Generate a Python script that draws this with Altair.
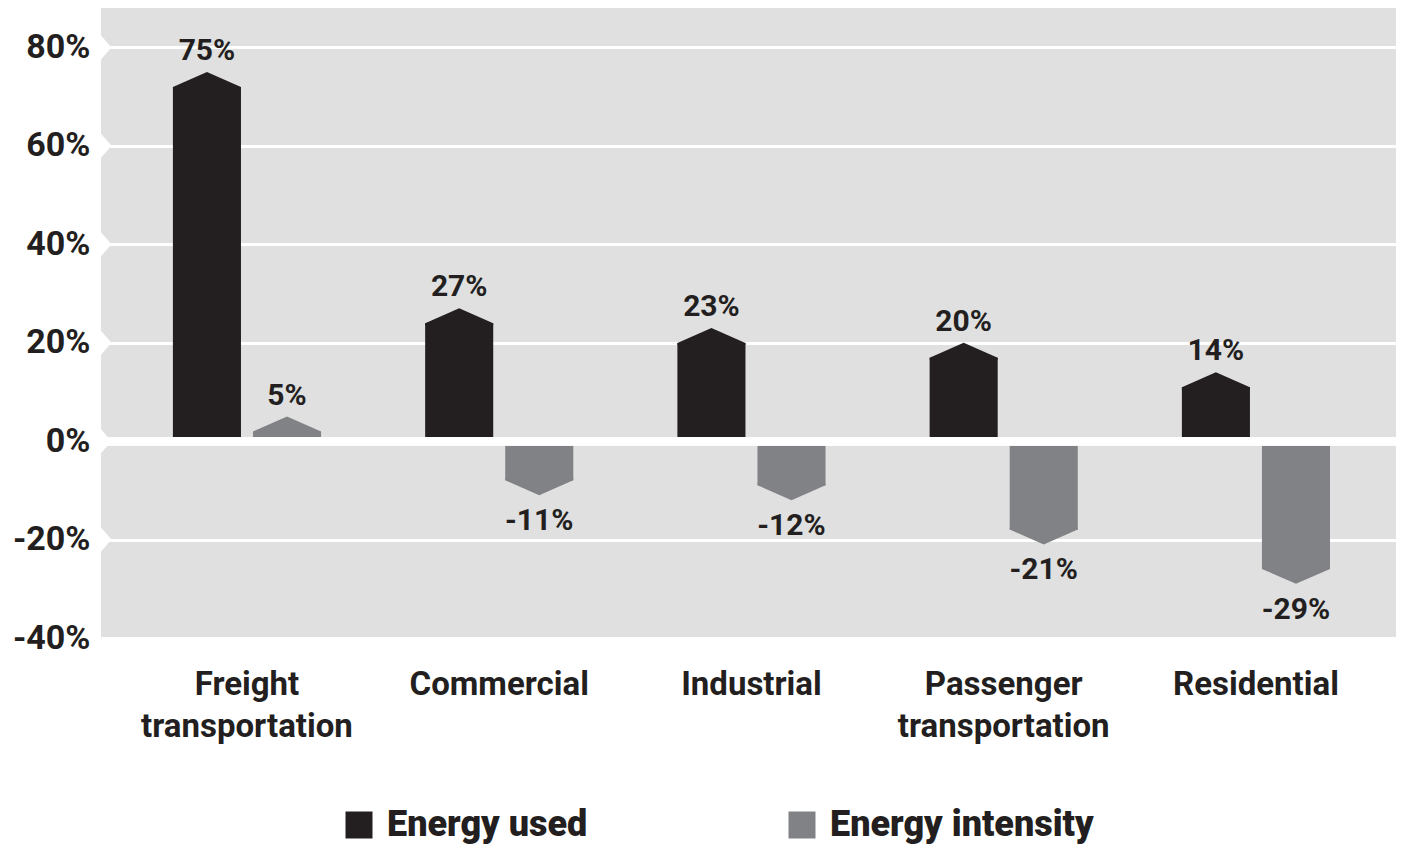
import altair as alt
import pandas as pd

categories = ["Freight transportation", "Commercial", "Industrial",
              "Passenger transportation", "Residential"]
energy_used = [75, 27, 23, 20, 14]
energy_intensity = [5, -11, -12, -21, -29]
series = ["Energy used", "Energy intensity"]
y_ticks = [-40, -20, 0, 20, 40, 60, 80]
notch_ticks = [-20, 0, 20, 40, 60, 80]

rows = []
for c, u, i in zip(categories, energy_used, energy_intensity):
    rows.append({"category": c, "series": series[0], "value": u})
    rows.append({"category": c, "series": series[1], "value": i})
df = pd.DataFrame(rows)
notch_df = pd.DataFrame({"tick": notch_ticks})

INK = "#231f20"
GRAY = "#808285"
BG = "#e0e0e0"
FONT = "Roboto"

x = alt.X("category:N", sort=categories,
          scale=alt.Scale(paddingInner=0.4, paddingOuter=0.267, align=0.522),
          axis=alt.Axis(title=None, labelExpr="split(datum.label, ' ')",
                        labelFontSize=33, labelFont=FONT, labelFontWeight="bold",
                        labelColor=INK, labelAngle=0, labelPadding=30, labelLimit=0,
                        labelLineHeight=42, ticks=False, domain=False, grid=False))
xo = alt.XOffset("series:N", sort=series,
                 scale=alt.Scale(paddingInner=0.15, paddingOuter=0.02))
y = alt.Y("value:Q", stack=None,
          scale=alt.Scale(domain=[-40, 88], nice=False, zero=False),
          axis=alt.Axis(values=y_ticks, labelExpr="datum.value + '%'", title=None,
                        grid=True, gridColor="white", gridWidth=3, ticks=False,
                        domain=False, labelFontSize=34, labelFont=FONT,
                        labelFontWeight="bold", labelColor=INK, labelPadding=11))
color = alt.Color("series:N", sort=series,
                  scale=alt.Scale(domain=series, range=[INK, GRAY]),
                  legend=alt.Legend(title=None, orient="none", legendX=240, legendY=799,
                                    direction="horizontal", symbolType="square",
                                    symbolSize=729, symbolStrokeWidth=0, labelLimit=0,
                                    labelFontSize=36, labelFont=FONT, labelFontWeight=900,
                                    labelColor=INK, columnPadding=196, labelOffset=10))

base = alt.Chart(df).encode(x=x, xOffset=xo, y=y, color=color)

pos = base.transform_filter("datum.value > 0")
neg = base.transform_filter("datum.value < 0")

bars_pos = pos.mark_bar(yOffset=15, opacity=1)
bars_neg = neg.mark_bar(yOffset=-15, opacity=1)

tip_pos = pos.mark_point(shape="M-1,0.5L-1,0.44L0,0L1,0.44L1,0.5Z", size=68 * 68,
                         filled=True, opacity=1, strokeWidth=0)
tip_neg = neg.mark_point(shape="M-1,-0.5L-1,-0.44L0,0L1,-0.44L1,-0.5Z", size=68 * 68,
                         filled=True, opacity=1, strokeWidth=0)

lab_pos = pos.transform_calculate(lbl="datum.value + '%'").mark_text(
    baseline="bottom", dy=-6, fontSize=30, font=FONT, fontWeight="bold"
).encode(text="lbl:N", color=alt.value(INK))
lab_neg = neg.transform_calculate(lbl="datum.value + '%'").mark_text(
    baseline="top", dy=11, fontSize=30, font=FONT, fontWeight="bold"
).encode(text="lbl:N", color=alt.value(INK))

zero = alt.Chart(df).mark_rule(strokeWidth=8).encode(y=alt.datum(0), color=alt.value("white"))

notches = alt.Chart(notch_df).mark_point(
    shape="M0,-1L0.87,0L0,1Z", size=576, filled=True, opacity=1, strokeWidth=0
).encode(x=alt.value(0), y=alt.Y("tick:Q"), color=alt.value("white"))

chart = alt.layer(bars_pos, bars_neg, tip_pos, tip_neg, zero, notches, lab_pos, lab_neg).properties(
    width=1295, height=630, autosize="none",
    padding={"left": 93, "top": 0, "right": 0, "bottom": 206},
).configure_view(fill=BG, stroke=None)

chart.save("out.html", embed_options={"renderer": "svg", "actions": False})
